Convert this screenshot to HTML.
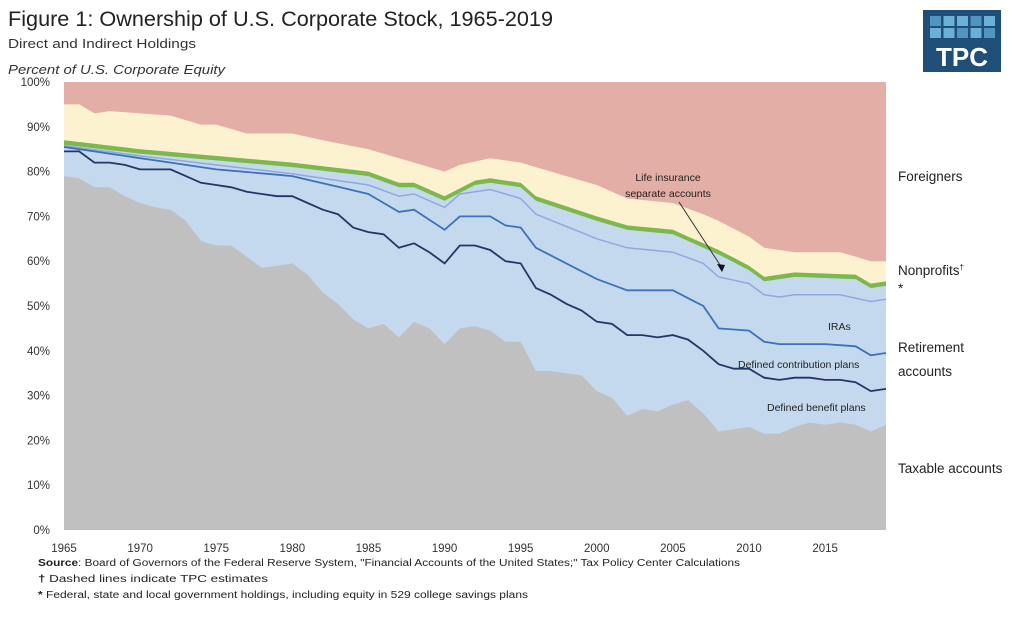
<!DOCTYPE html>
<html><head><meta charset="utf-8"><style>
body{margin:0;background:#fff;width:1024px;height:626px;overflow:hidden;font-family:"Liberation Sans",sans-serif;}
</style></head><body>
<svg id="s" width="1024" height="626" xmlns="http://www.w3.org/2000/svg" font-family="Liberation Sans, sans-serif">
<text x="8" y="26" font-size="21" fill="#222" textLength="545" lengthAdjust="spacingAndGlyphs">Figure 1: Ownership of U.S. Corporate Stock, 1965-2019</text>
<text x="8" y="48" font-size="13" fill="#333" textLength="188" lengthAdjust="spacingAndGlyphs">Direct and Indirect Holdings</text>
<text x="8" y="74" font-size="13" font-style="italic" fill="#333" textLength="217" lengthAdjust="spacingAndGlyphs">Percent of U.S. Corporate Equity</text>
<g id="chart"></g>
<g font-size="11.5" fill="#333" text-anchor="end" id="yl"></g>
<g font-size="11.5" fill="#333" text-anchor="middle" id="xl"></g>
<g font-size="13.5" fill="#222">
<text x="898" y="181">Foreigners</text>
<text x="898" y="275">Nonprofits<tspan font-size="8" dy="-5">†</tspan></text>
<text x="898" y="293">*</text>
<text x="898" y="352">Retirement</text>
<text x="898" y="376">accounts</text>
<text x="898" y="473">Taxable accounts</text>
</g>
<g font-size="10.5" fill="#222">
<text x="828" y="330">IRAs</text>
<text x="738" y="368">Defined contribution plans</text>
<text x="767" y="411">Defined benefit plans</text>
<text x="668" y="181" text-anchor="middle">Life insurance</text>
<text x="668" y="197" text-anchor="middle">separate accounts</text>
</g>
<line x1="679" y1="202" x2="722" y2="268" stroke="#333" stroke-width="1"/>
<polygon points="722,272 717,264 725,265" fill="#111"/>
<g font-size="10" fill="#222">
<text x="38" y="566" textLength="702" lengthAdjust="spacingAndGlyphs"><tspan font-weight="bold">Source</tspan>: Board of Governors of the Federal Reserve System, "Financial Accounts of the United States;" Tax Policy Center Calculations</text>
<text x="38" y="582" textLength="230" lengthAdjust="spacingAndGlyphs"><tspan font-weight="bold">†</tspan> Dashed lines indicate TPC estimates</text>
<text x="38" y="598" textLength="490" lengthAdjust="spacingAndGlyphs"><tspan font-weight="bold">*</tspan> Federal, state and local government holdings, including equity in 529 college savings plans</text>
</g>
<rect x="923" y="10" width="78" height="62" fill="#1f4e79"/>
<g fill="#6bb0d6" id="logo"></g>
<text x="962" y="66" font-size="26" font-weight="bold" fill="#fff" text-anchor="middle">TPC</text>
</svg>
<script>
var NS="http://www.w3.org/2000/svg";
function X(y){return 64+(y-1965)*(886-64)/54;}
function Y(p){return 530-p*4.48;}
function interp(k){var o=[];for(var y=1965;y<=2019;y++){for(var i=0;i<k.length-1;i++){if(y>=k[i][0]&&y<=k[i+1][0]){var t=(y-k[i][0])/((k[i+1][0]-k[i][0])||1);o.push(k[i][1]+t*(k[i+1][1]-k[i][1]));break;}}}return o;}
var tax=[79,78.5,76.5,76.5,74.5,73,72,71.5,69,64.5,63.5,63.5,61,58.5,59,59.5,57,53,50.5,47,45,46,43,46.5,45,41.5,45,45.5,44.5,42,42,35.5,35.5,35,34.5,31,29.5,25.5,27,26.5,28,29,26,22,22.5,23,21.5,21.5,23,24,23.5,24,23.5,22,23.5];
var db=[84.5,84.5,82,82,81.5,80.5,80.5,80.5,79,77.5,77,76.5,75.5,75,74.5,74.5,73,71.5,70.5,67.5,66.5,66,63,64,62,59.5,63.5,63.5,62.5,60,59.5,54,52.5,50.5,49,46.5,46,43.5,43.5,43,43.5,42.5,40,37,36,36,34,33.5,34,34,33.5,33.5,33,31,31.5];
var dc=interp([[1965,85.5],[1970,83],[1975,80.5],[1980,79],[1985,75],[1987,71],[1988,71.5],[1990,67],[1991,70],[1993,70],[1994,68],[1995,67.5],[1996,63],[2000,56],[2002,53.5],[2005,53.5],[2007,50],[2008,45],[2010,44.5],[2011,42],[2012,41.5],[2015,41.5],[2017,41],[2018,39],[2019,39.5]]);
var ira=interp([[1965,85.8],[1970,83.5],[1975,81.5],[1980,79.5],[1985,77],[1987,74.5],[1988,75],[1990,72],[1991,75],[1993,76],[1995,74],[1996,70.5],[2000,65],[2002,63],[2005,62],[2007,59.5],[2008,56.5],[2010,55],[2011,52.5],[2012,52],[2013,52.5],[2016,52.5],[2018,51],[2019,51.5]]);
var li=interp([[1965,86],[1970,84],[1975,82.5],[1980,81],[1985,79],[1987,76.5],[1988,76.5],[1990,73.5],[1992,77],[1993,77.5],[1995,76.5],[1996,73.5],[2000,69],[2002,67],[2005,66],[2008,61.5],[2010,58],[2011,55.5],[2012,56],[2013,56.5],[2017,56],[2018,54],[2019,54.5]]);
var gr=li.map(function(v){return v+1.0;});
var np=interp([[1965,95],[1966,95],[1967,93],[1968,93.5],[1970,93],[1972,92.5],[1974,90.5],[1975,90.5],[1977,88.5],[1980,88.5],[1982,87],[1985,85],[1987,83],[1988,82],[1990,80],[1991,81.5],[1993,83],[1995,82],[1997,80],[2000,77],[2002,74],[2005,73],[2007,70.5],[2008,69],[2010,65.5],[2011,63],[2012,62.5],[2013,62],[2016,62],[2018,60],[2019,60]]);
var g=document.getElementById("chart");
function pts(a){return a.map(function(v,i){return X(1965+i).toFixed(1)+","+Y(v).toFixed(1);}).join(" ");}
function area(top,col){var p=document.createElementNS(NS,"polygon");p.setAttribute("points",X(1965)+","+Y(0)+" "+pts(top)+" "+X(2019)+","+Y(0));p.setAttribute("fill",col);g.appendChild(p);}
function line(a,col,w){var p=document.createElementNS(NS,"polyline");p.setAttribute("points",pts(a));p.setAttribute("fill","none");p.setAttribute("stroke",col);p.setAttribute("stroke-width",w);g.appendChild(p);}
var full=tax.map(function(){return 100;});
area(full,"#e3aea6");area(np,"#fdf2cf");area(gr,"#7cb84c");area(li,"#c5d9ee");area(tax,"#c0c0c0");
line(ira,"#8fa8df",1.5);line(dc,"#3d72b8",1.8);line(db,"#1f3864",1.8);
var yl=document.getElementById("yl");
for(var p=0;p<=100;p+=10){var t=document.createElementNS(NS,"text");t.setAttribute("x",50);t.setAttribute("y",Y(p)+4);t.textContent=p+"%";yl.appendChild(t);}
var xl=document.getElementById("xl");
for(var y=1965;y<=2015;y+=5){var t=document.createElementNS(NS,"text");t.setAttribute("x",X(y));t.setAttribute("y",552);t.textContent=y;xl.appendChild(t);}
var lg=document.getElementById("logo");var cs=["#4f97c2","#6bb0d6","#6bb0d6","#4f97c2","#6bb0d6"];
for(var r=0;r<2;r++)for(var c=0;c<5;c++){var q=document.createElementNS(NS,"rect");q.setAttribute("x",930+c*13.5);q.setAttribute("y",16+r*12);q.setAttribute("width",11);q.setAttribute("height",10);q.setAttribute("fill",cs[(c+r)%5]);lg.appendChild(q);}
</script>
</body></html>
